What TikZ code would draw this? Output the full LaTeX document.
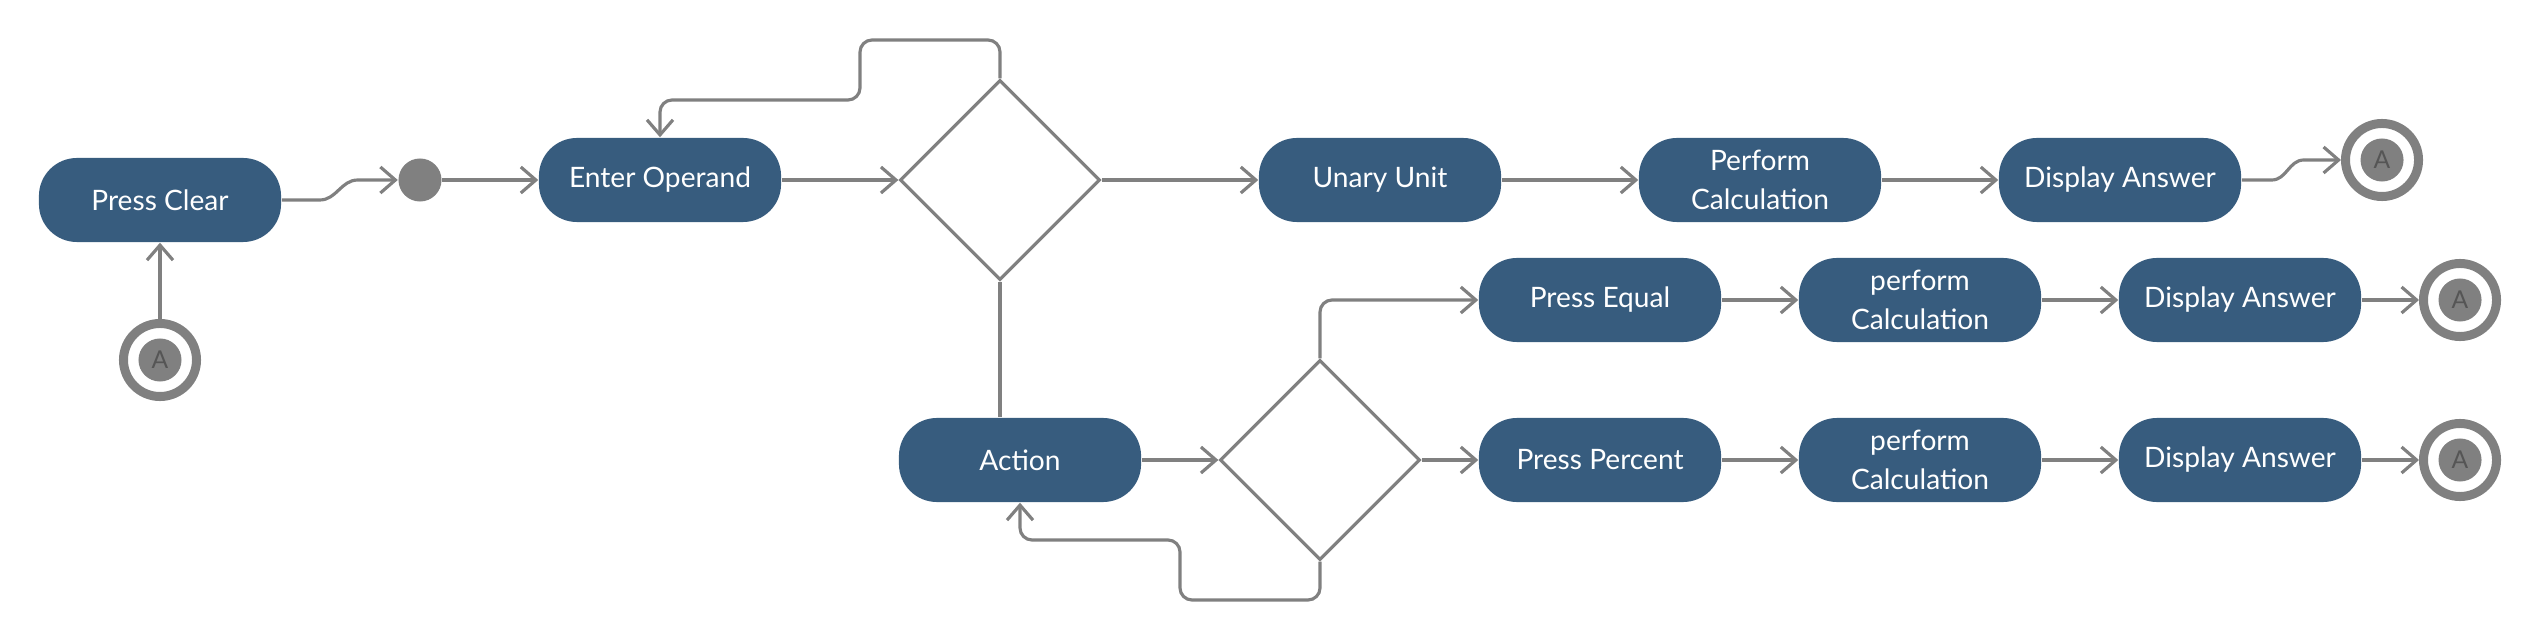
\documentclass[tikz,border=0pt]{standalone}
\usepackage{fontspec}
\setmainfont{Lato}
\usetikzlibrary{arrows.meta}
\usetikzlibrary{shapes.geometric}

\definecolor{actblue}{HTML}{375C7E}
\definecolor{flowgray}{HTML}{808080}
\definecolor{letgray}{HTML}{555555}

\tikzset{
    activity/.style={rectangle, rounded corners=0.38cm, fill=actblue, text=white,
        minimum width=2.42cm, minimum height=0.84cm, align=center, inner sep=2pt,
        font=\fontsize{8pt}{11pt}\selectfont},
    decision/.style={diamond, aspect=1, draw=flowgray, line width=0.9pt,
        minimum width=2cm, minimum height=2cm, inner sep=0pt},
    mergedot/.style={circle, fill=flowgray, minimum size=0.43cm, inner sep=0pt},
    endstate/.style={circle, draw=flowgray, line width=0.09cm, minimum size=0.73cm,
        inner sep=0pt, text=letgray, font=\fontsize{7pt}{7pt}\selectfont,
        path picture={\fill[flowgray] (path picture bounding box.center) circle (0.215cm);}},
    flow/.style={draw=flowgray, line width=0.9pt,
        -{Straight Barb[length=1.5mm,width=2.6mm,line width=0.9pt]}},
    plainflow/.style={draw=flowgray, line width=0.9pt}
}

\begin{document}
\begin{tikzpicture}[x=0.01cm, y=-0.01cm]
    \useasboundingbox (0,0) rectangle (2540,640);

    % Upper branch
    \node[activity] (clear) at (160,200) {Press Clear};
    \node[endstate] (endA) at (160,360) {A};
    \node[mergedot] (merge) at (420,180) {};
    \node[activity] (operand) at (660,180) {Enter Operand};
    \node[decision] (opchoice) at (1000,180) {};
    \node[activity] (unary) at (1380,180) {Unary Unit};
    \node[activity] (calcU) at (1760,180) {Perform\\Calculation};
    \node[activity] (showU) at (2120,180) {Display Answer};
    \node[endstate] (endU) at (2382,160) {A};

    % Lower branch
    \node[activity] (action) at (1020,460) {Action};
    \node[decision] (actchoice) at (1320,460) {};
    \node[activity] (equal) at (1600,300) {Press Equal};
    \node[activity] (calcE) at (1920,300) {perform\\Calculation};
    \node[activity] (showE) at (2240,300) {Display Answer};
    \node[endstate] (endE) at (2460,300) {A};
    \node[activity] (percent) at (1600,460) {Press Percent};
    \node[activity] (calcP) at (1920,460) {perform\\Calculation};
    \node[activity] (showP) at (2240,460) {Display Answer};
    \node[endstate] (endP) at (2460,460) {A};

    % Loop corners
    \coordinate (loopA) at (860,40);
    \coordinate (loopB) at (660,100);
    \coordinate (loopC) at (1180,600);
    \coordinate (loopD) at (1020,540);

    % Connectors
    \draw[flow] (endA.north) -- (clear.south);
    \draw[flow] (clear.east) -- ++(38,0) to[out=0,in=180] ++(38,-20) -- (merge.west);
    \draw[flow] (merge.east) -- (operand.west);
    \draw[flow] (operand.east) -- (opchoice.west);
    \draw[flow, rounded corners=0.12cm] (opchoice.north) |- (loopA) |- (loopB) -- (operand.north);
    \draw[flow] (opchoice.east) -- (unary.west);
    \draw[flow] (unary.east) -- (calcU.west);
    \draw[flow] (calcU.east) -- (showU.west);
    \draw[flow] (showU.east) -- ++(30,0) to[out=0,in=180] ++(32,-20) -- (endU.west);

    \draw[plainflow] (opchoice.south) -- (opchoice.south |- action.north);
    \draw[flow] (action.east) -- (actchoice.west);
    \draw[flow, rounded corners=0.12cm] (actchoice.north) |- (equal.west);
    \draw[flow] (actchoice.east) -- (percent.west);
    \draw[flow, rounded corners=0.12cm] (actchoice.south) |- (loopC) |- (loopD) -- (action.south);

    \draw[flow] (equal.east) -- (calcE.west);
    \draw[flow] (calcE.east) -- (showE.west);
    \draw[flow] (showE.east) -- (endE.west);
    \draw[flow] (percent.east) -- (calcP.west);
    \draw[flow] (calcP.east) -- (showP.west);
    \draw[flow] (showP.east) -- (endP.west);
\end{tikzpicture}
\end{document}
